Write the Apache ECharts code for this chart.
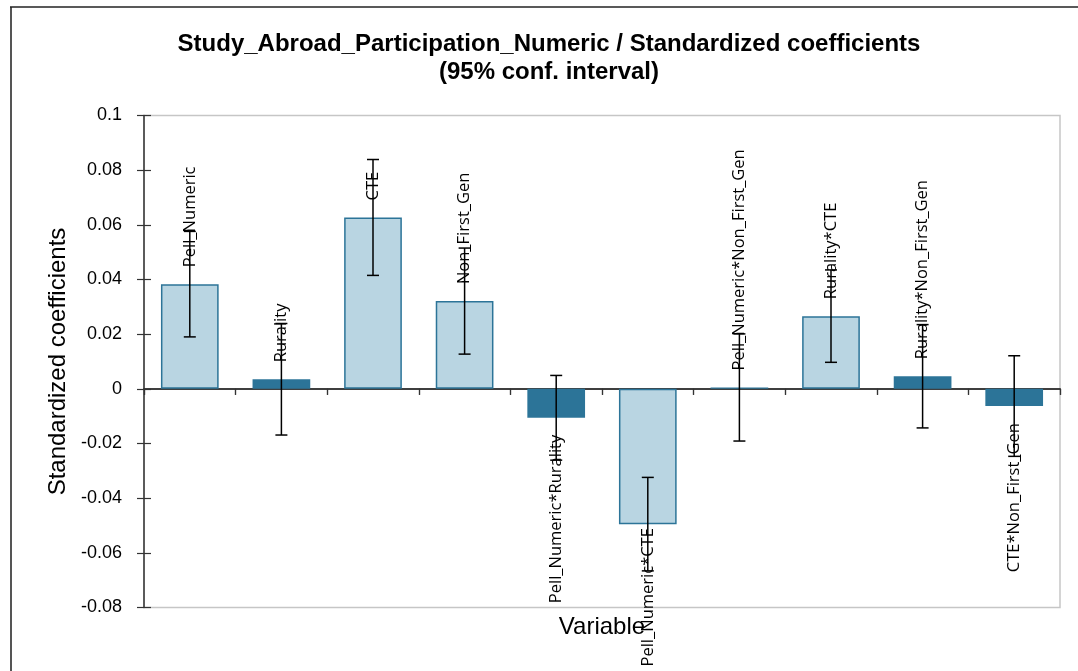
<!DOCTYPE html>
<html>
<head>
<meta charset="utf-8">
<script src="https://cdn.jsdelivr.net/npm/echarts@6/dist/echarts.min.js"></script>
<style>
  html, body { margin: 0; padding: 0; background: #fff; }
  #chart { width: 1078px; height: 671px; }
</style>
</head>
<body>
<div id="chart"></div>
<script>
// Standardized regression coefficients with 95% confidence intervals
const categories = [
  'Pell_Numeric', 'Rurality', 'CTE', 'Non_First_Gen',
  'Pell_Numeric*Rurality', 'Pell_Numeric*CTE', 'Pell_Numeric*Non_First_Gen',
  'Rurality*CTE', 'Rurality*Non_First_Gen', 'CTE*Non_First_Gen'
];
const coefficients = [0.0383, 0.0035, 0.0627, 0.0321, -0.0106, -0.0495, 0.0005, 0.0266, 0.0046, -0.0063];
const ciLower = [0.0190, -0.0169, 0.0415, 0.0127, -0.0261, -0.0666, -0.0191, 0.0097, -0.0143, -0.0247];
const ciUpper = [0.0576, 0.0239, 0.0839, 0.0515, 0.0049, -0.0324, 0.0201, 0.0435, 0.0235, 0.0121];
const yTicks = { min: -0.08, max: 0.1, interval: 0.02 };

const DARK = '#2c7498';
const LIGHT = '#b9d5e2';
const AXIS = '#333';

// Significant coefficients (interval excludes zero) get the light fill
const barData = coefficients.map((v, i) => {
  const significant = ciLower[i] > 0 || ciUpper[i] < 0;
  const neg = v < 0;
  return {
    value: v,
    itemStyle: significant
      ? { color: LIGHT, borderColor: DARK, borderWidth: 1.5 }
      : { color: DARK, borderColor: DARK, borderWidth: 0 },
    label: {
      position: neg ? 'bottom' : 'top',
      align: neg ? 'right' : 'left',
      distance: (neg && v < -0.04) ? 4 : 17
    }
  };
});

const errorData = categories.map((c, i) => [i, ciLower[i], ciUpper[i]]);

const chart = echarts.init(document.getElementById('chart'), null, { renderer: 'canvas' });

const tickStyle = { color: AXIS, width: 1.2 };

chart.setOption({
  animation: false,
  backgroundColor: '#fff',
  title: {
    text: 'Study_Abroad_Participation_Numeric / Standardized coefficients\n(95% conf. interval)',
    left: 544,
    top: 25,
    textAlign: 'center',
    textStyle: {
      fontFamily: 'Liberation Sans', fontWeight: 'bold', fontSize: 24,
      lineHeight: 28, color: '#000'
    }
  },
  grid: {
    left: 144, top: 115.5, right: 18, bottom: 63.5,
    show: true, borderColor: '#c6c6c6', borderWidth: 1.5, backgroundColor: 'transparent'
  },
  xAxis: [
    {
      type: 'category', data: categories,
      axisLine: { onZero: true, lineStyle: { color: AXIS, width: 1.5 } },
      axisTick: { show: true, interval: 0, inside: false, length: 6, lineStyle: tickStyle },
      axisLabel: { show: false },
      splitLine: { show: false }
    },
    {
      type: 'category', data: categories,
      axisLine: { onZero: true, lineStyle: { color: AXIS, width: 1.5 } },
      axisTick: { show: true, interval: 0, inside: true, length: 6, lineStyle: tickStyle },
      axisLabel: { show: false },
      splitLine: { show: false }
    }
  ],
  yAxis: [
    {
      type: 'value', min: yTicks.min, max: yTicks.max, interval: yTicks.interval,
      name: 'Standardized coefficients', nameLocation: 'middle', nameGap: 70,
      nameTextStyle: { fontFamily: 'Liberation Sans', fontSize: 24, color: '#000' },
      axisLine: { show: true, lineStyle: { color: AXIS, width: 1.5 } },
      axisTick: { show: false },
      axisLabel: { fontFamily: 'Liberation Sans', fontSize: 18, color: '#000', margin: 22 },
      splitLine: { show: false }
    },
    {
      // tick marks that cross the axis line: shifted into the plot, drawn outward
      type: 'value', min: yTicks.min, max: yTicks.max, interval: yTicks.interval,
      position: 'left', offset: -7,
      axisLine: { show: false },
      axisTick: { show: true, inside: false, length: 14, lineStyle: tickStyle },
      axisLabel: { show: false },
      splitLine: { show: false }
    }
  ],
  series: [
    {
      type: 'bar', data: barData, barCategoryGap: '37%',
      label: {
        show: true, rotate: 90, verticalAlign: 'middle',
        fontFamily: 'Open Sans', fontSize: 16.5, color: '#000',
        formatter: (p) => categories[p.dataIndex]
      },
      z: 2
    },
    {
      type: 'custom', data: errorData, z: 3,
      renderItem: (params, api) => {
        const x = api.value(0);
        const lo = api.coord([x, api.value(1)]);
        const hi = api.coord([x, api.value(2)]);
        const cap = 6;
        const style = { stroke: '#000', lineWidth: 1.5 };
        return {
          type: 'group',
          children: [
            { type: 'line', shape: { x1: lo[0], y1: lo[1], x2: hi[0], y2: hi[1] }, style },
            { type: 'line', shape: { x1: lo[0] - cap, y1: lo[1], x2: lo[0] + cap, y2: lo[1] }, style },
            { type: 'line', shape: { x1: hi[0] - cap, y1: hi[1], x2: hi[0] + cap, y2: hi[1] }, style }
          ]
        };
      }
    }
  ],
  graphic: [
    { type: 'line', shape: { x1: 11, y1: 7, x2: 11, y2: 671 }, style: { stroke: '#555', lineWidth: 2 } },
    { type: 'line', shape: { x1: 10, y1: 7, x2: 1078, y2: 7 }, style: { stroke: '#222', lineWidth: 1.5 } },
    {
      type: 'text', x: 602, y: 627,
      style: {
        text: 'Variable', fontFamily: 'Liberation Sans', fontSize: 24, fill: '#000',
        align: 'center', verticalAlign: 'middle'
      }
    }
  ]
});
</script>
</body>
</html>
